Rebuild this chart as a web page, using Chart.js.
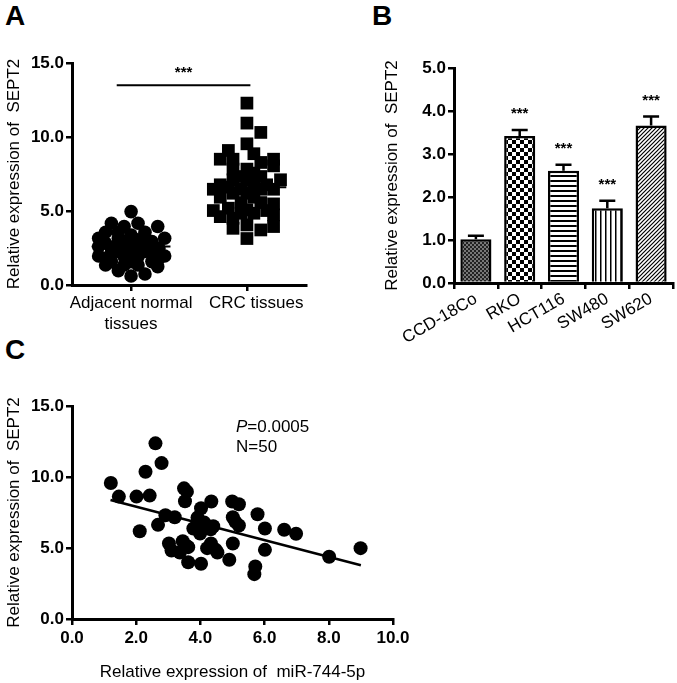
<!DOCTYPE html>
<html>
<head>
<meta charset="utf-8">
<script src="https://cdn.jsdelivr.net/npm/chart.js@4.4.1/dist/chart.umd.min.js"></script>
<style>
body { margin: 0; background: #fff; width: 677px; height: 683px; position: relative; overflow: hidden; font-family: Arial, "Liberation Sans", sans-serif; }
.box { position: absolute; }
.lbl { position: absolute; font-weight: bold; font-size: 28px; font-family: Arial, "Liberation Sans", sans-serif; }
</style>
</head>
<body>
<div class="lbl" style="left:5px;top:0px">A</div>
<div class="lbl" style="left:372px;top:0px">B</div>
<div class="lbl" style="left:5px;top:334px">C</div>
<div class="box" style="left:0;top:330px"><canvas id="chartC" width="420" height="353"></canvas></div>
<div class="box" style="left:0;top:0"><canvas id="chartA" width="340" height="335"></canvas></div>
<div class="box" style="left:340px;top:0"><canvas id="chartB" width="337" height="345"></canvas></div>
<script>
// ---- Panel A: tissue scatter ----
const groupNames = [["Adjacent normal", "tissues"], ["CRC tissues"]];
const groupLabelX = [1, 2.08];
const normalValues = [4.96, 4.17, 4.17, 3.95, 3.95, 3.56, 3.56, 3.56, 3.38, 3.16, 3.16, 3.05, 2.82, 2.93, 2.93, 2.48, 2.59, 2.48, 2.26, 2.26,
    1.96, 1.96, 1.80, 1.92, 1.92, 1.80, 1.58, 1.58, 1.58, 1.35, 1.24, 0.97, 0.74, 0.61, 2.14, 2.14, 2.14, 2.82, 2.82, 2.48,
    2.48, 3.16, 3.16, 3.05, 1.35, 1.35, 2.70, 2.60];
const normalJitter = [0, -0.17, 0.06, 0.23, -0.06, -0.22, -0.11, 0.12, 0, -0.28, 0.29, 0.06, -0.22, -0.06, 0.18, -0.17, 0, 0.24, -0.11, 0.12,
    -0.28, 0.29, -0.22, -0.06, 0.06, 0.24, -0.17, 0, 0.18, -0.22, 0.23, -0.11, 0.12, 0, -0.17, 0.18, 0, -0.11, 0.12, 0.06,
    -0.06, -0.11, 0.12, 0, -0.06, 0.06, 0.18, -0.28];
const crcValues = [12.29, 10.94, 10.31, 9.54, 9.09, 8.50, 8.50, 8.87, 8.28, 8.50, 8.05, 7.83, 7.83, 7.33, 7.33, 7.11, 7.11, 6.77, 6.61, 6.77,
    6.77, 6.47, 6.20, 6.20, 6.47, 5.93, 5.93, 5.48, 5.03, 5.19, 4.85, 5.08, 4.85, 5.03, 4.62, 4.51, 4.74, 3.83, 4.06, 3.72,
    3.95, 3.14, 6.47, 6.47, 7.11, 5.57, 5.57, 7.56];
const crcJitter = [0, 0, 0.12, 0, -0.16, -0.23, -0.12, 0.06, 0.12, 0.23, 0.23, -0.12, 0, -0.05, 0.12, 0.29, 0, -0.23, -0.16, 0.06,
    0.17, -0.29, -0.12, 0, 0.23, -0.23, 0.06, 0.23, -0.29, -0.16, -0.05, 0, 0.06, 0.17, -0.23, -0.12, 0.23, -0.12, 0, 0.12,
    0.23, 0, -0.05, 0.12, -0.12, 0.12, -0.05, 0.06];
const groupMeans = [2.6, 6.6];
const meanHalfWidth = 0.34;
const sigBracket = { from: 0.876, to: 2.03, y: 13.5, label: "***" };

// ---- Panel B: cell lines ----
const cellLines = ["CCD-18Co", "RKO", "HCT116", "SW480", "SW620"];
const cellMeans = [1.02, 3.42, 2.61, 1.74, 3.66];
const cellErrTop = [1.10, 3.56, 2.75, 1.91, 3.87];
const cellStars = ["", "***", "***", "***", "***"];

// ---- Panel C: correlation ----
const mirValues = [1.21, 1.46, 2.01, 2.42, 2.29, 2.60, 2.79, 2.11, 2.68, 2.91, 3.02, 3.10, 3.20, 3.36, 3.45, 3.49, 3.58, 3.52, 3.62, 3.62,
    3.78, 3.91, 4.02, 3.99, 4.02, 4.12, 4.21, 4.32, 4.34, 4.40, 4.33, 4.48, 4.53, 4.90, 4.99, 5.01, 5.01, 5.09, 5.20, 5.20,
    5.71, 5.68, 5.78, 6.01, 6.01, 6.61, 6.98, 8.01, 8.99, 3.60];
const septValues = [9.58, 8.62, 8.62, 8.69, 10.37, 12.37, 10.98, 6.18, 6.63, 7.31, 5.32, 4.82, 7.17, 4.68, 5.48, 9.20, 8.97, 8.29, 5.06, 4.00,
    6.37, 7.14, 7.80, 6.02, 3.89, 6.79, 4.99, 6.32, 8.27, 6.53, 5.32, 4.87, 4.68, 4.17, 8.27, 7.17, 5.32, 6.84, 8.08, 6.58,
    3.70, 3.16, 7.38, 6.37, 4.87, 6.28, 6.00, 4.38, 4.99, 5.10];
const fitX = [1.2, 9.0];
const fitY = [8.38, 3.79];

const FONT = "Arial, 'Liberation Sans', sans-serif";
const tickFont = { family: FONT, size: 17, weight: "bold" };
const labelFont = { family: FONT, size: 17 };
const fixed = (v) => Number(v).toFixed(1);

function axisLook(extra) {
    return Object.assign({
        border: { color: "#000", width: 3 },
        grid: { drawOnChartArea: false, drawTicks: true, tickLength: 6, color: "#000", lineWidth: 2.5 },
        ticks: { color: "#000", font: tickFont, padding: 3 },
    }, extra);
}

const baseOptions = {
    responsive: false,
    animation: false,
    plugins: { legend: { display: false }, tooltip: { enabled: false } },
};

// Panel A chart
const meanPlugin = {
    id: "meanLines",
    afterDatasetsDraw(chart) {
        const { ctx, scales: { x, y } } = chart;
        ctx.save();
        ctx.strokeStyle = "#000";
        ctx.lineWidth = 2;
        groupMeans.forEach((m, i) => {
            const yy = y.getPixelForValue(m);
            ctx.beginPath();
            ctx.moveTo(x.getPixelForValue(i + 1 - meanHalfWidth), yy);
            ctx.lineTo(x.getPixelForValue(i + 1 + meanHalfWidth), yy);
            ctx.stroke();
        });
        const by = y.getPixelForValue(sigBracket.y);
        ctx.beginPath();
        ctx.moveTo(x.getPixelForValue(sigBracket.from), by);
        ctx.lineTo(x.getPixelForValue(sigBracket.to), by);
        ctx.stroke();
        ctx.fillStyle = "#000";
        ctx.font = "bold 15px " + FONT;
        ctx.textAlign = "center";
        ctx.fillText(sigBracket.label, (x.getPixelForValue(sigBracket.from) + x.getPixelForValue(sigBracket.to)) / 2, by - 8);
        // group labels under the x axis
        ctx.font = "17px " + FONT;
        ctx.textBaseline = "top";
        groupNames.forEach((lines, i) => {
            const gx = x.getPixelForValue(groupLabelX[i]);
            lines.forEach((t, k) => ctx.fillText(t, gx, x.top + 10 + k * 21));
        });
        ctx.restore();
    },
};

new Chart(document.getElementById("chartA").getContext("2d"), {
    type: "scatter",
    data: {
        datasets: [
            {
                data: normalValues.map((v, i) => ({ x: 1 + normalJitter[i], y: v })),
                pointStyle: "circle", pointRadius: 6.8, backgroundColor: "#000", borderColor: "#000", borderWidth: 0,
            },
            {
                data: crcValues.map((v, i) => ({ x: 2 + crcJitter[i], y: v })),
                pointStyle: "rect", pointRadius: 9, backgroundColor: "#000", borderColor: "#000", borderWidth: 0,
            },
        ],
    },
    options: Object.assign({}, baseOptions, {
        layout: { padding: { top: 63, right: 34, left: 0, bottom: 5 } },
        scales: {
            x: axisLook({
                type: "linear", min: 0.49, max: 2.51,
                afterBuildTicks: (s) => { s.ticks = [{ value: 1 }, { value: 2 }]; },
                afterFit: (s) => { s.height = 45; },
                ticks: { color: "#000", font: labelFont, padding: 2, callback: () => "" },
            }),
            y: axisLook({
                min: 0, max: 15, ticks: { color: "#000", font: tickFont, padding: 2, stepSize: 5, callback: fixed },
                afterFit: (s) => { s.width = 72; },
                title: { display: true, text: "Relative expression of  SEPT2", color: "#000", font: labelFont, padding: { top: 4, bottom: 0 } },
            }),
        },
    }),
    plugins: [meanPlugin],
});

// Panel B patterns
function makePattern(kind) {
    const c = document.createElement("canvas");
    const g = c.getContext("2d");
    let n = 4;
    if (kind === "fine") {
        n = 4; c.width = c.height = n;
        g.fillStyle = "#fff"; g.fillRect(0, 0, n, n);
        g.fillStyle = "#222"; g.fillRect(0, 0, 2, 2); g.fillRect(2, 2, 2, 2);
        g.fillStyle = "#777"; g.fillRect(2, 0, 2, 2); g.fillRect(0, 2, 2, 2);
    } else if (kind === "check") {
        n = 8; c.width = c.height = n;
        g.fillStyle = "#fff"; g.fillRect(0, 0, n, n);
        g.fillStyle = "#000"; g.fillRect(0, 0, 4, 4); g.fillRect(4, 4, 4, 4);
    } else if (kind === "hstripe") {
        n = 5; c.width = c.height = n;
        g.fillStyle = "#fff"; g.fillRect(0, 0, n, n);
        g.fillStyle = "#000"; g.fillRect(0, 0, n, 2);
    } else if (kind === "vstripe") {
        n = 5; c.width = c.height = n;
        g.fillStyle = "#fff"; g.fillRect(0, 0, n, n);
        g.fillStyle = "#000"; g.fillRect(0, 0, 1.5, n);
    } else {
        n = 4; c.width = c.height = n;
        g.fillStyle = "#fff"; g.fillRect(0, 0, n, n);
        g.strokeStyle = "#000"; g.lineWidth = 1.2;
        g.beginPath();
        g.moveTo(0, n); g.lineTo(n, 0);
        g.moveTo(-1, 1); g.lineTo(1, -1);
        g.moveTo(n - 1, n + 1); g.lineTo(n + 1, n - 1);
        g.stroke();
    }
    return g.createPattern(c, "repeat");
}
const barPatterns = ["fine", "check", "hstripe", "vstripe", "diag"].map(makePattern);

const errPlugin = {
    id: "errBars",
    afterDatasetsDraw(chart) {
        const { ctx, scales: { y } } = chart;
        const meta = chart.getDatasetMeta(0);
        ctx.save();
        ctx.strokeStyle = "#000";
        ctx.fillStyle = "#000";
        ctx.lineWidth = 2.5;
        ctx.font = "bold 15px " + FONT;
        ctx.textAlign = "center";
        meta.data.forEach((bar, i) => {
            const top = y.getPixelForValue(cellMeans[i]);
            const hi = y.getPixelForValue(cellErrTop[i]);
            ctx.beginPath();
            ctx.moveTo(bar.x, top);
            ctx.lineTo(bar.x, hi);
            ctx.moveTo(bar.x - 8, hi);
            ctx.lineTo(bar.x + 8, hi);
            ctx.stroke();
            if (cellStars[i]) ctx.fillText(cellStars[i], bar.x, hi - 12);
        });
        ctx.restore();
    },
};

new Chart(document.getElementById("chartB").getContext("2d"), {
    type: "bar",
    data: {
        labels: cellLines,
        datasets: [{
            data: cellMeans,
            backgroundColor: barPatterns,
            borderColor: "#000",
            borderWidth: 2.5,
            borderSkipped: "bottom",
            barPercentage: 0.71,
            categoryPercentage: 1,
        }],
    },
    options: Object.assign({}, baseOptions, {
        layout: { padding: { top: 68, right: 4, left: 38, bottom: 0 } },
        scales: {
            x: axisLook({
                afterFit: (s) => { s.height = 62; },
                ticks: { color: "#000", font: labelFont, padding: 0, minRotation: 30, maxRotation: 30, autoSkip: false },
            }),
            y: axisLook({
                min: 0, max: 5, ticks: { color: "#000", font: tickFont, padding: 2, stepSize: 1, callback: fixed },
                afterFit: (s) => { s.width = 76; },
                title: { display: true, text: "Relative expression of  SEPT2", color: "#000", font: labelFont, padding: { top: 4, bottom: 0 } },
            }),
        },
    }),
    plugins: [errPlugin],
});

// Panel C chart
const notePlugin = {
    id: "note",
    afterDraw(chart) {
        const { ctx } = chart;
        ctx.save();
        ctx.fillStyle = "#000";
        ctx.textAlign = "left";
        ctx.textBaseline = "middle";
        ctx.font = "italic 17px " + FONT;
        ctx.fillText("P", 236, 97);
        const w = ctx.measureText("P").width;
        ctx.font = "17px " + FONT;
        ctx.fillText("=0.0005", 236 + w, 97);
        ctx.fillText("N=50", 236, 117);
        ctx.restore();
    },
};

new Chart(document.getElementById("chartC").getContext("2d"), {
    type: "scatter",
    data: {
        datasets: [
            {
                data: mirValues.map((v, i) => ({ x: v, y: septValues[i] })),
                pointStyle: "circle", pointRadius: 7, backgroundColor: "#000", borderWidth: 0,
            },
            {
                type: "line",
                data: fitX.map((v, i) => ({ x: v, y: fitY[i] })),
                borderColor: "#000", borderWidth: 2.5, pointRadius: 0, fill: false,
            },
        ],
    },
    options: Object.assign({}, baseOptions, {
        layout: { padding: { top: 76, right: 27, left: 0, bottom: 0 } },
        scales: {
            x: axisLook({
                type: "linear", min: 0, max: 10,
                ticks: { color: "#000", font: tickFont, padding: 3, stepSize: 2, callback: fixed },
                afterFit: (s) => { s.height = 64; },
                title: { display: true, text: "Relative expression of  miR-744-5p", color: "#000", font: labelFont, padding: { top: 14, bottom: 0 } },
            }),
            y: axisLook({
                min: 0, max: 15, ticks: { color: "#000", font: tickFont, padding: 2, stepSize: 5, callback: fixed },
                afterFit: (s) => { s.width = 72; },
                title: { display: true, text: "Relative expression of  SEPT2", color: "#000", font: labelFont, padding: { top: 4, bottom: 0 } },
            }),
        },
    }),
    plugins: [notePlugin],
});
</script>
</body>
</html>
